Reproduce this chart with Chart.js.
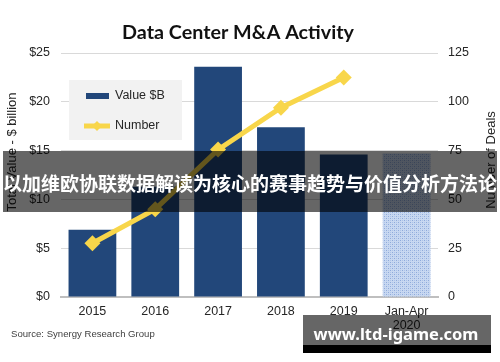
<!DOCTYPE html>
<html><head><meta charset="utf-8">
<script src="https://cdn.jsdelivr.net/npm/chart.js@4"></script>
<style>html,body{margin:0;padding:0;background:#fff;overflow:hidden}canvas{display:block}</style>
</head><body>
<canvas id="c" width="500" height="362"></canvas>
<script>
// ---- data ----
const categories = ['2015', '2016', '2017', '2018', '2019', ['Jan-Apr', '2020']];
const valueB = [6.9, 11.3, 23.6, 17.4, 14.6, 14.7];
const dealCount = [27.5, 45, 75.5, 97, 112.5, null];
const seriesNames = ['Value $B', 'Number'];
const chartTitle = 'Data Center M&A Activity';
const leftAxisTitle = 'Total Value - $ billion';
const rightAxisTitle = 'Number of Deals';
const sourceNote = 'Source: Synergy Research Group';
const bannerText = '以加维欧协联数据解读为核心的赛事趋势与价值分析方法论';
const watermarkText = 'www.ltd-igame.com';

// ---- style ----
const BAR = '#22477a';
const YEL = '#f8d64a';
const TXT = '#262626';
const FAM = '"Liberation Sans", Arial, sans-serif';

function makePattern() {
  const c = document.createElement('canvas');
  c.width = 4; c.height = 4;
  const g = c.getContext('2d');
  g.fillStyle = '#c8d8f1'; g.fillRect(0, 0, 4, 4);
  g.fillStyle = '#8eaadb';
  g.fillRect(0, 0, 1, 1); g.fillRect(2, 2, 1, 1);
  g.fillStyle = '#adc3e8';
  g.fillRect(2, 0, 1, 1); g.fillRect(0, 2, 1, 1);
  return document.getElementById('c').getContext('2d').createPattern(c, 'repeat');
}
const pat = makePattern();
const barColors = valueB.map((v, i) => i === valueB.length - 1 ? pat : BAR);

function fitSize(ctx, text, weight, family, width) {
  ctx.font = weight + ' 20px ' + family;
  return 20 * width / ctx.measureText(text).width;
}

const overlay = {
  id: 'overlay',
  afterDatasetsDraw(chart) {
    const ctx = chart.ctx;
    const ds = chart.data.datasets;
    ctx.save();
    // legend box
    ctx.fillStyle = '#f2f2f2';
    ctx.fillRect(69, 80, 113, 60);
    ctx.fillStyle = ds[0].backgroundColor[0];
    ctx.fillRect(86, 93, 23, 6);
    ctx.strokeStyle = ds[1].borderColor;
    ctx.lineWidth = 5;
    ctx.beginPath(); ctx.moveTo(84, 126); ctx.lineTo(110, 126); ctx.stroke();
    ctx.fillStyle = ds[1].borderColor;
    ctx.beginPath(); ctx.moveTo(97, 121); ctx.lineTo(102, 126); ctx.lineTo(97, 131); ctx.lineTo(92, 126); ctx.closePath(); ctx.fill();
    ctx.fillStyle = TXT;
    ctx.font = '12.5px ' + FAM;
    ctx.textBaseline = 'middle';
    ctx.textAlign = 'left';
    ctx.fillText(ds[0].label, 115, 96);
    ctx.fillText(ds[1].label, 115, 126);
    ctx.restore();
  },
  afterDraw(chart) {
    const ctx = chart.ctx;
    ctx.save();
    // chart title
    const ts = fitSize(ctx, chartTitle, 'bold', 'Lato, sans-serif', 232);
    ctx.font = 'bold ' + ts + 'px Lato, sans-serif';
    ctx.fillStyle = '#111';
    ctx.textAlign = 'center';
    ctx.textBaseline = 'alphabetic';
    ctx.fillText(chartTitle, 238, 39);
    // axis titles
    ctx.font = '13px ' + FAM;
    ctx.fillStyle = TXT;
    ctx.textBaseline = 'middle';
    ctx.save(); ctx.translate(12, 152); ctx.rotate(-Math.PI / 2); ctx.fillText(leftAxisTitle, 0, 0); ctx.restore();
    ctx.save(); ctx.translate(491, 160); ctx.rotate(-Math.PI / 2); ctx.fillText(rightAxisTitle, 0, 0); ctx.restore();
    // source
    const ss = fitSize(ctx, sourceNote, '', FAM, 144);
    ctx.font = ss + 'px ' + FAM;
    ctx.fillStyle = '#404040';
    ctx.textAlign = 'left';
    ctx.textBaseline = 'alphabetic';
    ctx.fillText(sourceNote, 11, 337);
    // banner
    ctx.fillStyle = 'rgba(0,0,0,0.6)';
    ctx.fillRect(3, 151, 494, 61);
    ctx.fillStyle = '#fff';
    ctx.font = 'bold 19px "Noto Sans CJK SC", sans-serif';
    ctx.textAlign = 'center';
    ctx.textBaseline = 'middle';
    ctx.fillText(bannerText, 250, 184);
    // watermark
    ctx.fillStyle = 'rgba(0,0,0,0.6)';
    ctx.fillRect(303, 315, 188, 30);
    ctx.fillStyle = '#000';
    ctx.fillRect(303, 345, 188, 8);
    const ws = fitSize(ctx, watermarkText, 'bold', '"Noto Sans", sans-serif', 165);
    ctx.font = 'bold ' + ws + 'px "Noto Sans", sans-serif';
    ctx.fillStyle = '#fff';
    ctx.fillText(watermarkText, 396, 335);
    ctx.restore();
  }
};

const tickFont = { family: FAM, size: 12.5, lineHeight: 1.1 };

new Chart(document.getElementById('c'), {
  type: 'bar',
  data: {
    labels: categories,
    datasets: [
      { type: 'bar', label: seriesNames[0], data: valueB, yAxisID: 'y', backgroundColor: barColors,
        barPercentage: 0.76, categoryPercentage: 1, borderWidth: 0, order: 2 },
      { type: 'line', label: seriesNames[1], data: dealCount, yAxisID: 'y1', borderColor: YEL, backgroundColor: YEL,
        borderWidth: 5, pointStyle: 'rectRot', pointRadius: 8, pointBorderWidth: 0, pointBackgroundColor: YEL,
        tension: 0, fill: false, order: 1 }
    ]
  },
  options: {
    responsive: false, animation: false, devicePixelRatio: 1,
    layout: { padding: { top: 53, left: 0, right: 0, bottom: 0 } },
    plugins: { legend: { display: false }, tooltip: { enabled: false }, title: { display: false } },
    scales: {
      x: {
        offset: true,
        grid: { display: false, drawTicks: false },
        border: { display: true, color: '#bfbfbf', width: 2 },
        ticks: { padding: 8, color: TXT, font: tickFont, maxRotation: 0, autoSkip: false },
        afterFit(s) { s.height = 65; }
      },
      y: {
        position: 'left', min: 0, max: 25,
        ticks: { stepSize: 5, padding: 11, color: TXT, font: tickFont, callback: v => '$' + v },
        grid: { color: '#d9d9d9', lineWidth: 1, drawTicks: false },
        border: { display: false },
        afterFit(s) { s.width = 61; }
      },
      y1: {
        position: 'right', min: 0, max: 125,
        ticks: { stepSize: 25, padding: 10, color: TXT, font: tickFont },
        grid: { display: false, drawTicks: false },
        border: { display: false },
        afterFit(s) { s.width = 62; }
      }
    }
  },
  plugins: [overlay]
});
</script>
</body></html>
